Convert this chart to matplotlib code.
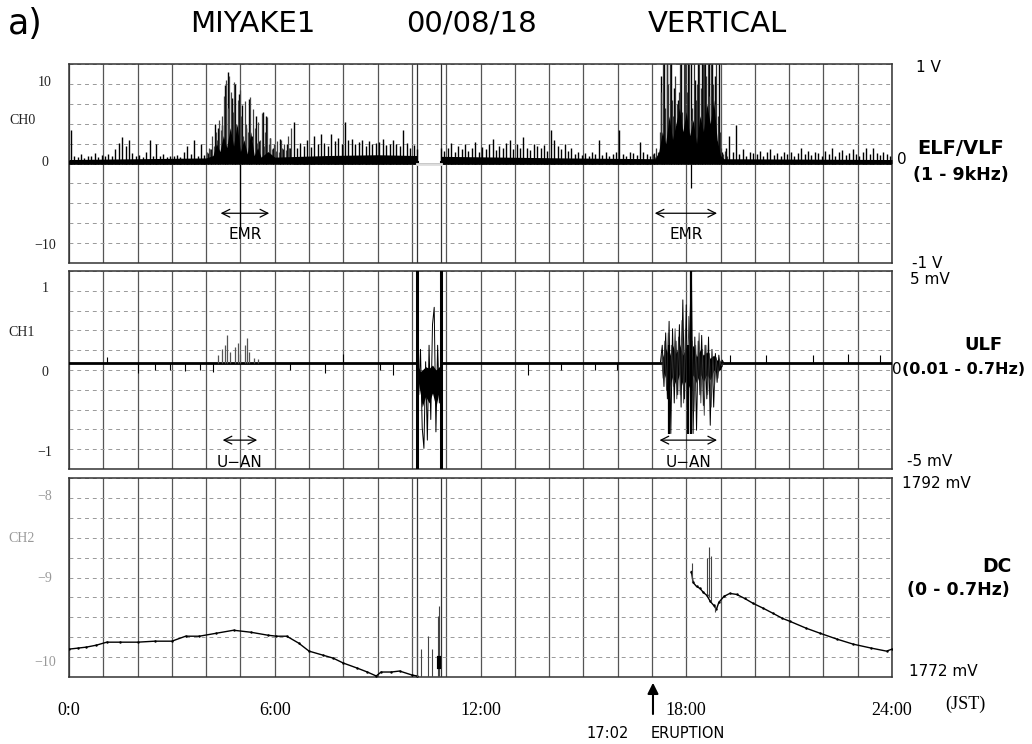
"""
MIYAKE1 00/08/18 vertical component: ELF/VLF, ULF and DC channels over one day (JST).
Values read off the scanned chart.
"""
import matplotlib
matplotlib.use("Agg")
import matplotlib.pyplot as plt
import numpy as np

W, H = 1032, 744

# ---------------- CH0  ELF/VLF : spike heights every 0.1 h ----------------
nan = np.nan
ch0_peaks = [
    4.2, 1.0, 0.8, 1.2, 0.7, 1.0, 0.9, 1.3, 0.8, 1.1,      # 0h
    0.9, 1.2, 1.0, 1.8, 2.6, 3.3, 2.2, 2.9, 1.3, 1.0,      # 1h
    1.1, 0.8, 1.5, 2.9, 1.0, 2.5, 0.9, 1.2, 0.8, 1.0,      # 2h
    0.9, 1.1, 0.8, 1.4, 2.2, 1.2, 2.9, 1.0, 2.4, 1.1,      # 3h
    1.3, 1.8, 5.0, 4.4, 4.8, 9.8, 11.5, 8.2, 10.0, 8.7,    # 4h
    7.3, 4.5, 8.1, 3.5, 6.0, 2.8, 6.5, 6.0, 3.2, 2.0,      # 5h
    1.5, 3.1, 1.8, 2.4, 2.0, 5.2, 1.9, 2.6, 2.2, 3.0,      # 6h
    2.1, 3.4, 2.5, 3.7, 2.6, 2.2, 3.7, 2.8, 3.2, 2.4,      # 7h
    5.2, 2.9, 3.1, 2.5, 2.7, 3.0, 2.2, 2.8, 2.4, 2.6,      # 8h
    2.7, 3.1, 2.3, 2.5, 2.9, 2.4, 2.2, 4.2, 2.6, 2.0,      # 9h
    2.3, 1.8, nan, nan, nan, nan, nan, nan, 2.0, 1.6,      # 10h
    1.9, 2.6, 1.4, 2.2, 1.8, 2.5, 1.6, 2.0, 2.7, 1.5,      # 11h
    2.1, 1.8, 2.4, 3.1, 1.7, 2.2, 1.9, 2.6, 3.0, 1.8,      # 12h
    2.4, 1.9, 3.3, 2.0, 1.7, 2.5, 2.2, 1.9, 2.3, 1.6,      # 13h
    4.2, 2.9, 2.2, 1.8, 2.5, 1.6, 2.0, 1.2, 1.5, 1.1,      # 14h
    1.3, 1.0, 1.4, 1.2, 2.9, 1.1, 1.5, 0.9, 1.2, 1.4,      # 15h
    4.2, 1.2, 1.0, 1.5, 1.3, 1.1, 2.7, 1.4, 1.2, 1.0,      # 16h
    1.3, 0.9, 11.0, 12.5, 12.5, 12.5, 9.5, 8.0, 12.5, 12.5,  # 17h
    12.5, 12.5, 10.5, 12.5, 12.5, 12.5, 12.5, 12.5, 11.0, 12.5,  # 18h
    1.5, 2.0, 3.5, 1.4, 4.8, 1.2, 1.8, 1.0, 1.5, 1.3,      # 19h
    1.2, 1.6, 1.0, 1.4, 1.8, 1.1, 1.3, 0.9, 1.5, 1.2,      # 20h
    1.4, 1.0, 1.3, 2.0, 1.2, 1.6, 1.1, 1.5, 1.3, 1.0,      # 21h
    1.6, 1.2, 1.9, 1.0, 1.4, 1.7, 1.1, 1.3, 1.8, 1.2,      # 22h
    1.0, 1.4, 1.9, 1.2, 2.0, 1.3, 1.1, 1.5, 1.2, 1.0,      # 23h
]
ch0_t = np.arange(len(ch0_peaks)) * 0.1 + 0.05

# extra (in-between) spikes inside the two EMR bursts, every 0.05 h
ch0_burst_a = [
    1.5, 2.0, 1.8, 3.5, 2.2, 4.0, 3.0, 5.5, 4.2, 6.0,
    8.5, 10.5, 7.0, 11.0, 9.0, 6.5, 10.2, 5.0, 8.0, 9.2,
    6.0, 3.5, 7.8, 5.0, 4.0, 8.3, 3.0, 6.8, 4.5, 2.6,
    5.2, 3.0, 6.3, 2.2, 4.0, 5.8, 2.5, 3.2, 1.8, 2.4,
    1.6, 2.8, 1.5, 3.0, 2.0, 2.5, 1.7, 3.4, 2.0, 4.5,
]                                             # 4.025 .. 6.475
ch0_burst_c = [
    1.2, 0.8, 2.0, 1.5, 4.0, 9.0, 12.5, 7.0, 12.5, 10.0,
    12.5, 8.0, 6.0, 11.0, 7.5, 9.0, 12.5, 6.5, 12.5, 12.5,
    9.0, 12.5, 5.5, 7.0, 12.5, 8.0, 10.0, 12.5, 9.5, 12.5,
    12.5, 11.0, 12.5, 8.5, 12.5, 10.0, 7.5, 12.5, 6.0, 4.0,
    2.0, 1.2, 1.6, 1.0,
]                                             # 17.025 .. 19.175
ch0_burst_a_t = np.arange(len(ch0_burst_a)) * 0.05 + 4.025
ch0_burst_c_t = np.arange(len(ch0_burst_c)) * 0.05 + 17.025

# dense black core of the ELF/VLF record (two recorded segments)
ch0_core_t1 = [0.0, 4.0, 4.2, 4.3, 4.4, 4.5, 4.6, 4.7, 4.8, 4.9, 5.0, 5.1, 5.2, 5.3,
               5.4, 5.5, 5.6, 5.8, 6.0, 7.5, 9.0, 10.15]
ch0_core_v1 = [0.5, 0.7, 1.0, 2.5, 1.5, 3.5, 2.0, 4.5, 2.2, 5.0, 1.5, 3.0, 1.2, 4.0,
               1.0, 2.0, 0.8, 1.5, 0.8, 1.0, 1.1, 1.0]
ch0_core_t2 = [10.85, 14.5, 17.1, 17.2, 17.3, 17.4, 17.5, 17.6, 17.7, 17.8, 17.9, 18.0,
               18.1, 18.2, 18.3, 18.4, 18.5, 18.6, 18.7, 18.8, 18.9, 19.0, 19.1, 24.0]
ch0_core_v2 = [0.9, 0.7, 0.6, 1.5, 4.0, 2.5, 6.0, 3.0, 5.0, 7.0, 4.0, 6.5,
               3.5, 5.5, 2.5, 6.0, 4.0, 7.5, 5.0, 8.0, 3.0, 1.0, 0.6, 0.5]
ch0_neg_t = [5.0, 18.15]
ch0_neg_v = [-8.0, -3.1]

gap_marks = [10.15, 10.86]

# ---------------- CH1  ULF ----------------
ch1_level = 0.08
ch1_spk_t = [1.1, 2.02, 2.5, 2.95, 3.38, 3.82, 4.19, 6.44, 7.46, 8.0, 9.07, 9.45,
             13.39, 14.36, 15.33, 15.97, 19.27, 20.34, 21.7, 22.72, 23.64]
ch1_spk_v = [0.16, -0.04, 0.0, 0.0, -0.01, 0.0, -0.02, 0.0, -0.04, 0.2, 0.0, -0.06,
             -0.06, 0.0, 0.0, 0.0, 0.18, 0.18, 0.18, 0.2, 0.18]
ch1_a_t = [4.35, 4.45, 4.55, 4.62, 4.70, 4.85, 4.93, 5.0, 5.12, 5.18, 5.25, 5.4, 5.5]
ch1_a_v = [0.18, 0.25, 0.30, 0.43, 0.22, 0.28, 0.33, 0.20, 0.30, 0.39, 0.22, 0.15, 0.13]
ch1_b_v = [0.08, -0.30, 0.25, -0.70, -0.95, 0.10, -0.85, 0.30, -0.60, 0.55,
           0.76, -0.75, 0.30, -0.40, 0.08]                  # 10.15 .. 10.85, 0.05 h
ch1_b_t = np.arange(len(ch1_b_v)) * 0.05 + 10.15
ch1_b_core_t = [10.17, 10.25, 10.3, 10.4, 10.5, 10.6, 10.7, 10.82]
ch1_b_core_lo = [-0.10, -0.30, -0.45, -0.32, -0.40, -0.28, -0.45, -0.20]
ch1_b_core_hi = [0.05, -0.02, 0.0, 0.04, 0.02, 0.06, 0.0, 0.05]
ch1_c_v = [0.10, 0.30, -0.20, 0.45, -0.35, 0.59, -0.77, 0.50, -0.40, 0.35,
           -0.30, 0.55, -0.45, 0.85, -0.35, 0.79, -0.77, 0.45, 1.20, -0.77,
           0.40, -0.73, 0.35, -0.30, 0.42, -0.43, 0.30, -0.35, 0.40, -0.67,
           0.25, -0.45, 0.20, -0.15, 0.18, 0.00, 0.12, 0.08]  # 17.25 .. 19.10
ch1_c_t = np.arange(len(ch1_c_v)) * 0.05 + 17.25
ch1_c2_v = [0.20, -0.10, 0.35, -0.25, 0.45, -0.30, 0.30, -0.20, 0.50, -0.35,
            0.40, -0.30, 0.60, -0.40, 0.50, -0.45, 0.65, -0.30, 0.35, -0.50,
            0.30, -0.25, 0.45, -0.40, 0.25, -0.55, 0.30, -0.30, 0.20, -0.45,
            0.15, -0.20, 0.15, -0.10, 0.12, 0.05, 0.08]      # 17.275 .. 19.075
ch1_c2_t = np.arange(len(ch1_c2_v)) * 0.05 + 17.275
ch1_c_core_t = [17.3, 17.4, 17.5, 17.6, 17.7, 17.8, 17.9, 18.0, 18.1, 18.2, 18.3,
                18.4, 18.5, 18.6, 18.7, 18.8, 18.9, 19.05]
ch1_c_core_lo = [0.02, -0.10, -0.22, -0.08, -0.18, -0.05, -0.20, -0.12, -0.22, -0.06,
                 -0.16, -0.04, -0.14, -0.05, -0.12, 0.0, -0.04, 0.05]
ch1_c_core_hi = [0.15, 0.26, 0.16, 0.30, 0.20, 0.32, 0.18, 0.28, 0.22, 0.30, 0.16,
                 0.24, 0.18, 0.22, 0.14, 0.18, 0.12, 0.10]

# ---------------- CH2  DC (mV) ----------------
dc_t1 = [0, 0.25, 0.5, 0.8, 1.1, 1.5, 2.0, 2.5, 3.0, 3.4, 3.8, 4.3, 4.8, 5.3, 5.8,
         6.05, 6.35, 6.7, 7.0, 7.4, 7.7, 8.0, 8.4, 8.7, 8.96, 9.1, 9.4, 9.64, 10.0, 10.15]
dc_v1 = [1774.8, 1774.9, 1775.0, 1775.2, 1775.5, 1775.5, 1775.5, 1775.6, 1775.6, 1776.1,
         1776.1, 1776.4, 1776.7, 1776.5, 1776.2, 1776.1, 1776.1, 1775.4, 1774.6, 1774.2,
         1773.9, 1773.4, 1772.9, 1772.5, 1772.1, 1772.5, 1772.5, 1772.6, 1772.2, 1772.1]
dc_spk1_t = [10.15, 10.27, 10.47, 10.6, 10.75, 10.8]
dc_spk1_v = [1776.6, 1774.8, 1776.1, 1774.8, 1778.1, 1779.1]
dc_t2 = [18.15, 18.2, 18.3, 18.4, 18.5, 18.6, 18.7, 18.8, 18.88, 18.95, 19.1, 19.27,
         19.47, 19.7, 19.95, 20.25, 20.53, 20.8, 21.02, 21.5, 21.9, 22.4, 22.87, 23.4,
         23.84, 24.0]
dc_v2 = [1782.6, 1781.5, 1781.1, 1780.9, 1780.5, 1780.2, 1779.6, 1779.2, 1778.8, 1779.5,
         1780.1, 1780.4, 1780.3, 1779.9, 1779.4, 1778.9, 1778.4, 1777.9, 1777.6, 1776.9,
         1776.4, 1775.8, 1775.3, 1774.9, 1774.6, 1774.8]
dc_spk2_t = [18.17, 18.6, 18.66, 18.72, 18.85]
dc_spk2_lo = [1781.5, 1780.2, 1780.0, 1779.6, 1779.2]
dc_spk2_hi = [1783.5, 1784.0, 1785.1, 1784.2, 1778.5]

hour_labels = {0: "0:0", 6: "6:00", 12: "12:00", 18: "18:00", 24: "24:00"}

SANS = "DejaVu Sans"
SERIF = "Liberation Serif"


def fx(px):
    return px / W


def fy(py):
    return 1 - py / H


fig = plt.figure(figsize=(W / 100, H / 100), dpi=100)
boxes = [(64, 263), (271, 469), (478, 677)]
axes = []
for top, bot in boxes:
    ax = fig.add_axes([fx(69), fy(bot), fx(892) - fx(69), (bot - top) / H])
    axes.append(ax)
ax0, ax1, ax2 = axes

ylims = [(-12.5, 12.5), (-1.2, 1.2), (1772, 1792)]
for ax, (lo, hi) in zip(axes, ylims):
    ax.set_xlim(0, 24)
    ax.set_ylim(lo, hi)
    ax.set_xticks(range(25))
    ax.set_yticks(np.linspace(lo, hi, 11))
    ax.grid(axis="x", color="#555555", lw=0.9, ls="-")
    ax.grid(axis="y", color="#999999", lw=0.7, ls=(0, (4, 4)))
    ax.tick_params(length=0, labelleft=False, labelbottom=False)
    for s in ax.spines.values():
        s.set_color("#333333")
        s.set_linewidth(1.1)
    for m in gap_marks:
        ax.axvline(m, color="#333333", lw=0.9)

# ---- CH0 ----
ax0.axhline(0, color="black", lw=1.2, zorder=3)
ax0.plot([10.15, 10.85], [0, 0], color="#dddddd", lw=2, zorder=4)
ax0.vlines(ch0_t, 0, ch0_peaks, color="black", lw=1.0, zorder=3)
ax0.vlines(ch0_burst_a_t, 0, ch0_burst_a, color="#444444", lw=0.9, zorder=3)
ax0.vlines(ch0_burst_c_t, 0, ch0_burst_c, color="#333333", lw=0.9, zorder=3)
ax0.fill_between(ch0_core_t1, 0, ch0_core_v1, color="black", lw=0, zorder=3)
ax0.fill_between(ch0_core_t2, 0, ch0_core_v2, color="black", lw=0, zorder=3)
ax0.vlines(ch0_neg_t, 0, ch0_neg_v, color="black", lw=0.9, zorder=3)
ax0.plot([0, 10.15], [0.15, 0.15], color="black", lw=2.2, zorder=3)
ax0.plot([10.85, 24], [0.15, 0.15], color="black", lw=2.2, zorder=3)

# ---- CH1 ----
ax1.plot([0, 10.15], [ch1_level] * 2, color="black", lw=2.0, zorder=3)
ax1.plot([10.85, 24], [ch1_level] * 2, color="black", lw=2.0, zorder=3)
ax1.vlines(ch1_spk_t, ch1_level, ch1_spk_v, color="black", lw=0.8, zorder=3)
ax1.vlines(ch1_a_t, ch1_level, ch1_a_v, color="#555555", lw=0.9, zorder=3)
ax1.fill_between(ch1_b_core_t, ch1_b_core_lo, ch1_b_core_hi, color="black", lw=0, zorder=3)
ax1.plot(ch1_b_t, ch1_b_v, color="black", lw=0.7, zorder=3)
ax1.fill_between(ch1_c_core_t, ch1_c_core_lo, ch1_c_core_hi, color="black", lw=0, zorder=3)
ax1.plot(ch1_c_t, ch1_c_v, color="black", lw=0.7, zorder=3)
ax1.plot(ch1_c2_t, ch1_c2_v, color="#333333", lw=0.6, zorder=3)
for m in gap_marks:
    ax1.axvline(m, color="black", lw=2.2, zorder=3)
ax1.vlines([17.5, 18.05, 18.15], [-0.77, -0.77, -0.77], [0.3, 0.3, 1.2],
           color="black", lw=1.6, zorder=3)

# ---- CH2 ----
ax2.plot(dc_t1, dc_v1, color="black", lw=1.0, marker=".", ms=1.5, zorder=3)
ax2.vlines(dc_spk1_t, 1771, dc_spk1_v, color="#444444", lw=0.8, zorder=3)
ax2.plot([10.8, 10.8], [1773.0, 1773.9], color="black", lw=3, zorder=3)
ax2.plot(dc_t2, dc_v2, color="black", lw=1.0, marker=".", ms=1.5, zorder=3)
ax2.vlines(dc_spk2_t, dc_spk2_lo, dc_spk2_hi, color="#444444", lw=0.8, zorder=3)

ax2.set_xticks(range(25))
ax2.set_xticklabels([hour_labels.get(h, "") for h in range(25)],
                    fontsize=13, family=SERIF)
ax2.tick_params(labelbottom=True, pad=18)

# ---- annotations inside panels ----
arrow = dict(arrowstyle="<->", color="black", lw=0.9, mutation_scale=14)
for x0, x1 in [(4.34, 5.92), (17.0, 18.98)]:
    ax0.annotate("", xy=(x0, -6.25), xytext=(x1, -6.25), arrowprops=arrow)
    ax0.text((x0 + x1) / 2, -8.9, "EMR", ha="center", va="center", fontsize=11, family=SANS)
for x0, x1 in [(4.4, 5.57), (17.14, 18.98)]:
    ax1.annotate("", xy=(x0, -0.85), xytext=(x1, -0.85), arrowprops=arrow)
    ax1.text((x0 + x1) / 2, -1.12, "U\u2212AN", ha="center", va="center", fontsize=11,
             family=SANS)

# eruption arrow
ax2.annotate("", xy=(17.03, -0.015), xytext=(17.03, -0.2),
             xycoords=("data", "axes fraction"), textcoords=("data", "axes fraction"),
             arrowprops=dict(arrowstyle="-|>", color="black", lw=1.5, mutation_scale=16),
             annotation_clip=False)
fig.text(fx(608), fy(733), "17:02", ha="center", va="center", fontsize=10.5, family=SANS)
fig.text(fx(688), fy(733), "ERUPTION", ha="center", va="center", fontsize=10.5, family=SANS)
fig.text(fx(965), fy(704), "(JST)", ha="center", va="center", fontsize=13, family=SERIF)

# ---- titles ----
fig.text(fx(8), fy(24), "a)", ha="left", va="center", fontsize=25, family=SANS)
fig.text(fx(253), fy(24), "MIYAKE1", ha="center", va="center", fontsize=21, family=SANS)
fig.text(fx(471), fy(24), "00/08/18", ha="center", va="center", fontsize=21, family=SANS)
fig.text(fx(717), fy(24), "VERTICAL", ha="center", va="center", fontsize=21, family=SANS)

# ---- left labels (serif, as on the recorder) ----
left = [("10", 83), ("0", 163), ("\u221210", 246), ("CH0", 120),
        ("1", 289), ("0", 373), ("\u22121", 453), ("CH1", 332),
        ("\u22128", 496), ("\u22129", 578), ("\u221210", 662), ("CH2", 538)]
for s, py in left:
    xx = 22 if s.startswith("CH") else 45
    col = "#999999" if py > 480 else "#222222"
    fig.text(fx(xx), fy(py), s, ha="center", va="center", fontsize=10, family=SERIF,
             color=col)

# ---- right labels ----
right_plain = [("1 V", 928, 68), ("0", 902, 160), ("-1 V", 927, 264),
               ("5 mV", 930, 280), ("-5 mV", 930, 462),
               ("1792 mV", 936, 484), ("1772 mV", 943, 672)]
for s, px, py in right_plain:
    fig.text(fx(px), fy(py), s, ha="center", va="center", fontsize=11, family=SANS)
right_bold = [("ELF/VLF", 961, 148, 14), ("(1 - 9kHz)", 961, 175, 12.5),
              ("ULF", 983, 345, 13), ("DC", 997, 567, 13.5), ("(0 - 0.7Hz)", 958, 590, 12.5)]
for s, px, py, fs in right_bold:
    fig.text(fx(px), fy(py), s, ha="center", va="center", fontsize=fs, family=SANS,
             weight="bold")
fig.text(fx(892), fy(370), "0", ha="left", va="center", fontsize=11, family=SANS)
fig.text(fx(902), fy(370), "(0.01 - 0.7Hz)", ha="left", va="center", fontsize=11.5,
         family=SANS, weight="bold")

fig.savefig("out.png", dpi=100)
